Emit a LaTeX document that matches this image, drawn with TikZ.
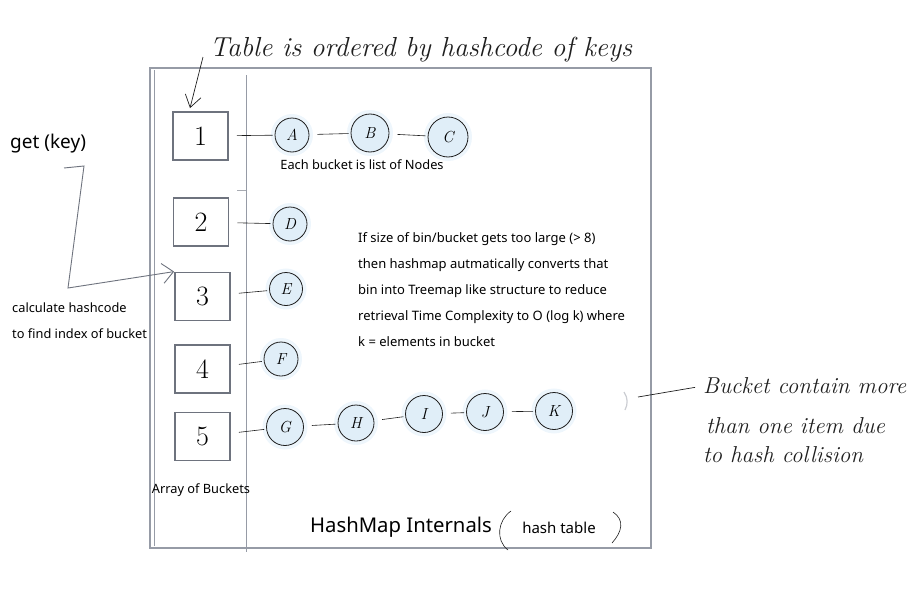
\documentclass[tikz,border=0pt]{standalone}
\usepackage{fontspec}
\newfontfamily\sans{Noto Sans}
\usetikzlibrary{arrows.meta}
\definecolor{framegray}{RGB}{150,155,166}
\definecolor{boxgray}{RGB}{110,115,126}
\definecolor{glowin}{RGB}{224,238,248}
\definecolor{glowout}{RGB}{238,246,252}
\definecolor{ink}{RGB}{30,30,30}
\begin{document}
\begin{tikzpicture}[x=1pt,y=-1pt,
  frame/.style={draw=framegray, line width=1.6pt},
  bucket/.style={draw=boxgray, line width=1.8pt, minimum width=55pt, minimum height=48pt, inner sep=0pt, font=\fontsize{28}{28}\selectfont},
  lnode/.style={circle, draw=ink, line width=0.8pt, fill=glowin, inner sep=0pt, minimum size=#1, preaction={draw=glowout, line width=8pt}, font=\itshape\fontsize{16}{16}\selectfont},
  link/.style={draw=ink, line width=0.6pt, shorten <=8pt, shorten >=2pt},
  stext/.style={font=\sans\fontsize{12.8}{14}\selectfont, inner sep=0pt},
  hand/.style={font=\itshape\fontsize{23}{23}\selectfont, inner sep=0pt, text=ink},
  garrow/.style={draw=boxgray, line width=0.9pt, -{Straight Barb[length=11pt,width=20pt]}},
  karrow/.style={draw=ink, line width=0.7pt, -{Straight Barb[length=12pt,width=16pt]}}
]
\useasboundingbox (0,0) rectangle (919,589);

% frame
\draw[frame] (150,68) rectangle (651,548);
\draw[draw=framegray, line width=0.8pt] (154,70) -- (154,546);
\draw[draw=framegray, line width=1pt] (246,75) -- (246,552);
\draw[draw=boxgray!60, line width=0.6pt] (237,190) -- (246,190);

% buckets
\node[bucket] (b1) at (200.5,136) {1};
\node[bucket] (b2) at (201,222) {2};
\node[bucket] (b3) at (202.5,296.5) {3};
\node[bucket] (b4) at (202.5,369) {4};
\node[bucket] (b5) at (202.5,436.5) {5};

% list nodes
\node[lnode=34pt] (A) at (292,135) {A};
\node[lnode=38pt] (B) at (370,133) {B};
\node[lnode=40pt] (C) at (448,137) {C};
\node[lnode=34pt] (D) at (290,224) {D};
\node[lnode=33pt] (E) at (286,289) {E};
\node[lnode=34pt] (F) at (281,359) {F};
\node[lnode=37pt] (G) at (285,427) {G};
\node[lnode=36pt] (H) at (356,423) {H};
\node[lnode=37pt] (I) at (424,414) {I};
\node[lnode=37pt] (J) at (485,412) {J};
\node[lnode=37pt] (K) at (554,411) {K};

\draw[link] (b1) -- (A);
\draw[link] (A) -- (B);
\draw[link] (B) -- (C);
\draw[link] (b2) -- (D);
\draw[link] (b3) -- (E);
\draw[link] (b4) -- (F);
\draw[link] (b5) -- (G);
\draw[link] (G) -- (H);
\draw[link] (H) -- (I);
\draw[link] (I) -- (J);
\draw[link] (J) -- (K);

% texts
\node[stext] (each) at (362,165) {Each bucket is list of Nodes};
\node[font=\sans\fontsize{19}{19}\selectfont, inner sep=0pt, anchor=west] (get) at (10,144) {get (key)};
\node[stext, anchor=west] (calc1) at (12,308) {calculate hashcode};
\node[stext, anchor=west] (calc2) at (12,334) {to find index of bucket};
\node[stext, anchor=north west, align=left, font=\sans\fontsize{13}{26}\selectfont] (info) at (358,232)
  {If size of bin/bucket gets too large (> 8)\\
   then hashmap autmatically converts that\\
   bin into Treemap like structure to reduce\\
   retrieval Time Complexity to O (log k) where\\
   k = elements in bucket};
\node[stext] (arr) at (201,490) {Array of Buckets};
\node[font=\sans\fontsize{20.3}{21}\selectfont, inner sep=0pt] (hm) at (401,527) {HashMap Internals};
\node[font=\sans\fontsize{15}{15}\selectfont, inner sep=0pt] (ht) at (559,528) {hash table};
\draw[draw=ink, line width=0.6pt] (511,511) .. controls (498,520) and (495,540) .. (508,550);
\draw[draw=ink, line width=0.6pt] (613,512) .. controls (625,520) and (622,532) .. (612,543);

% get(key) arrow
\coordinate (g0) at (64,168);
\draw[garrow] (g0) -- (84,166) -- (68,288) -- (b3.north west);

% title
\node[hand, font=\itshape\fontsize{27.5}{28}\selectfont] (title) at (421,50) {Table is ordered by hashcode of keys};
\coordinate (t0) at (203,57);
\draw[karrow] (t0) -- ([xshift=-10.5pt,yshift=3pt]b1.north);

% right note
\node[hand, anchor=west] (n1) at (703,386) {Bucket contain more};
\node[hand, anchor=west] (n2) at (706,426) {than one item due};
\node[hand, anchor=west] (n3) at (703,455) {to hash collision};
\coordinate (n0) at (638,397);
\draw[draw=ink, line width=0.7pt, shorten <=8pt] (n1.west) -- (n0);
\draw[draw=framegray!50, line width=1.2pt] (624,392) .. controls (628,398) and (628,404) .. (625,410);
\end{tikzpicture}
\end{document}
